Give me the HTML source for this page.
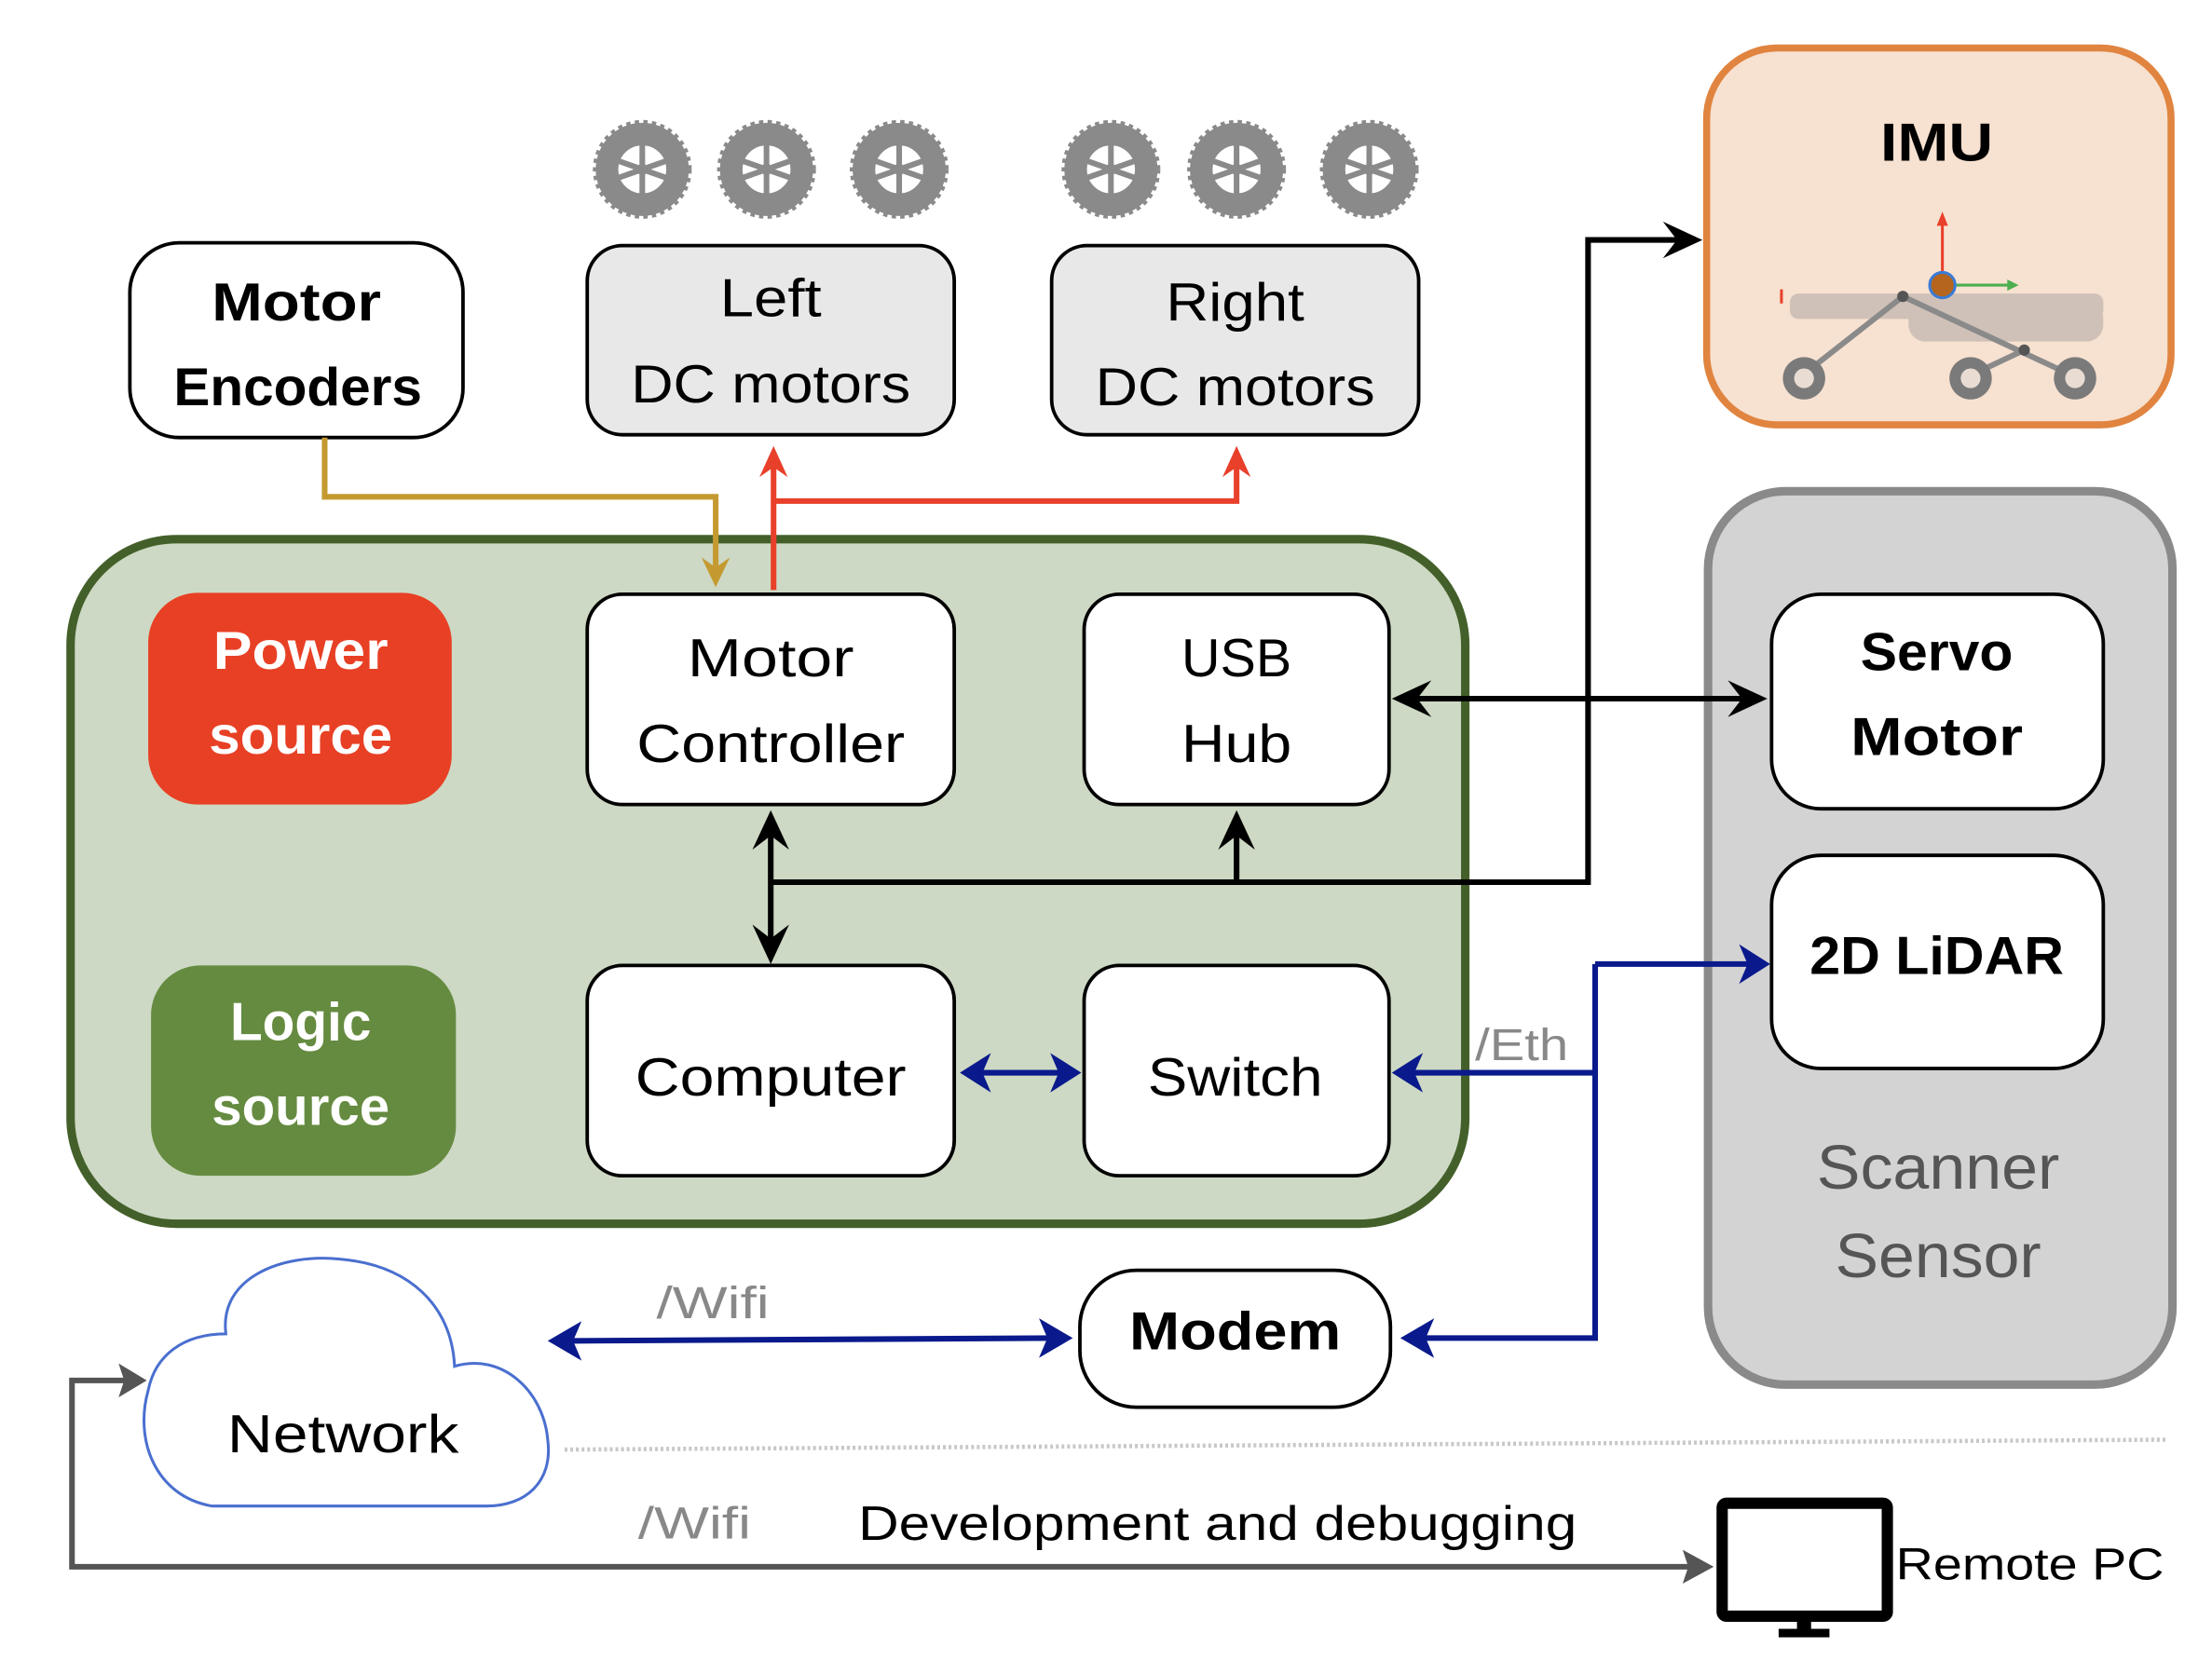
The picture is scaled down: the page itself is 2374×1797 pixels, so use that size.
<!DOCTYPE html>
<html><head><meta charset="utf-8"><style>
html,body{margin:0;padding:0;background:#fff;}
svg{display:block;}
text{font-family:"Liberation Sans",sans-serif;}
</style></head><body>
<svg width="2374" height="1797" viewBox="0 0 1567 1186" preserveAspectRatio="none" xmlns="http://www.w3.org/2000/svg">
<defs>
<g id="wheel">
<circle r="33" fill="#8a8a8a"/>
<circle r="33" fill="none" stroke="#8a8a8a" stroke-width="4" stroke-dasharray="3 3"/>
<circle r="18" fill="#fff"/>
<circle r="18" fill="none" stroke="#8a8a8a" stroke-width="2"/>
<circle r="4" fill="#8a8a8a"/>
<g stroke="#8a8a8a" stroke-width="4"><line x1="0" y1="-18" x2="0" y2="18"/><line x1="-17" y1="-6" x2="17" y2="6"/><line x1="-17" y1="6" x2="17" y2="-6"/></g>
</g>
</defs>

<use href="#wheel" x="455" y="120"/><use href="#wheel" x="543" y="120"/><use href="#wheel" x="637" y="120"/>
<use href="#wheel" x="787" y="120"/><use href="#wheel" x="876" y="120"/><use href="#wheel" x="970" y="120"/>

<rect x="92" y="172" width="236" height="138" rx="35" fill="#fff" stroke="#000" stroke-width="2.5"/>
<text x="210" y="227" font-size="38" font-weight="bold" text-anchor="middle" textLength="120" lengthAdjust="spacingAndGlyphs">Motor</text>
<text x="211" y="287" font-size="38" font-weight="bold" text-anchor="middle" textLength="176" lengthAdjust="spacingAndGlyphs">Encoders</text>

<rect x="416" y="174" width="260" height="134" rx="25" fill="#e8e8e8" stroke="#000" stroke-width="2.5"/>
<text x="546" y="224" font-size="38" text-anchor="middle" textLength="72" lengthAdjust="spacingAndGlyphs">Left</text>
<text x="546" y="285" font-size="38" text-anchor="middle" textLength="198" lengthAdjust="spacingAndGlyphs">DC motors</text>

<rect x="745" y="174" width="260" height="134" rx="25" fill="#e8e8e8" stroke="#000" stroke-width="2.5"/>
<text x="875" y="227" font-size="38" text-anchor="middle" textLength="98" lengthAdjust="spacingAndGlyphs">Right</text>
<text x="875" y="287" font-size="38" text-anchor="middle" textLength="198" lengthAdjust="spacingAndGlyphs">DC motors</text>

<rect x="1209" y="34" width="329" height="267" rx="50" fill="#f7e1d0" stroke="#e08440" stroke-width="5"/>
<text x="1372" y="114" font-size="38" font-weight="bold" text-anchor="middle" textLength="80" lengthAdjust="spacingAndGlyphs">IMU</text>
<rect x="1268" y="208" width="222" height="18" rx="6" fill="#cfc1b8"/>
<rect x="1352" y="214" width="138" height="28" rx="12" fill="#cfc1b8"/>
<line x1="1376" y1="202" x2="1376" y2="158" stroke="#e8402a" stroke-width="2"/>
<polygon points="1372,160 1380,160 1376,150" fill="#e8402a"/>
<line x1="1380" y1="202" x2="1424" y2="202" stroke="#4caf50" stroke-width="2"/>
<polygon points="1422,198 1430,202 1422,206" fill="#4caf50"/>
<line x1="1262" y1="205" x2="1262" y2="215" stroke="#e8402a" stroke-width="2"/>
<g stroke="#8a8a8a" stroke-width="4" fill="none">
<line x1="1348" y1="210" x2="1278" y2="265"/>
<line x1="1348" y1="210" x2="1470" y2="267"/>
<line x1="1434" y1="248" x2="1396" y2="266"/>
</g>
<circle cx="1348" cy="210" r="4" fill="#555"/><circle cx="1434" cy="248" r="4" fill="#555"/>
<circle cx="1376" cy="202" r="9" fill="#b5651d" stroke="#3a7bd5" stroke-width="2"/>
<circle cx="1278" cy="268" r="15" fill="#7a7a7a"/><circle cx="1278" cy="268" r="7" fill="#e8dcd3"/>
<circle cx="1396" cy="268" r="15" fill="#7a7a7a"/><circle cx="1396" cy="268" r="7" fill="#e8dcd3"/>
<circle cx="1470" cy="268" r="15" fill="#7a7a7a"/><circle cx="1470" cy="268" r="7" fill="#e8dcd3"/>

<rect x="1210" y="348" width="329" height="633" rx="55" fill="#d3d3d3" stroke="#8a8a8a" stroke-width="6"/>
<rect x="1255" y="421" width="235" height="152" rx="35" fill="#fff" stroke="#000" stroke-width="2.5"/>
<text x="1372" y="475" font-size="38" font-weight="bold" text-anchor="middle" textLength="108" lengthAdjust="spacingAndGlyphs">Servo</text>
<text x="1372" y="535" font-size="38" font-weight="bold" text-anchor="middle" textLength="122" lengthAdjust="spacingAndGlyphs">Motor</text>
<rect x="1255" y="606" width="235" height="151" rx="35" fill="#fff" stroke="#000" stroke-width="2.5"/>
<text x="1372" y="690" font-size="38" font-weight="bold" text-anchor="middle" textLength="180" lengthAdjust="spacingAndGlyphs">2D LiDAR</text>
<text x="1373" y="842" font-size="44" fill="#555" text-anchor="middle" textLength="172" lengthAdjust="spacingAndGlyphs">Scanner</text>
<text x="1373" y="905" font-size="44" fill="#555" text-anchor="middle" textLength="146" lengthAdjust="spacingAndGlyphs">Sensor</text>

<rect x="50" y="382" width="988" height="485" rx="75" fill="#cdd9c4" stroke="#44602a" stroke-width="6"/>
<rect x="105" y="420" width="215" height="150" rx="35" fill="#e84025"/>
<text x="213" y="474" font-size="38" font-weight="bold" fill="#fff" text-anchor="middle" textLength="124" lengthAdjust="spacingAndGlyphs">Power</text>
<text x="213" y="534" font-size="38" font-weight="bold" fill="#fff" text-anchor="middle" textLength="130" lengthAdjust="spacingAndGlyphs">source</text>
<rect x="107" y="684" width="216" height="149" rx="35" fill="#658b40"/>
<text x="213" y="737" font-size="38" font-weight="bold" fill="#fff" text-anchor="middle" textLength="100" lengthAdjust="spacingAndGlyphs">Logic</text>
<text x="213" y="797" font-size="38" font-weight="bold" fill="#fff" text-anchor="middle" textLength="126" lengthAdjust="spacingAndGlyphs">source</text>

<rect x="416" y="421" width="260" height="149" rx="25" fill="#fff" stroke="#000" stroke-width="2.5"/>
<text x="546" y="479" font-size="38" text-anchor="middle" textLength="118" lengthAdjust="spacingAndGlyphs">Motor</text>
<text x="546" y="540" font-size="38" text-anchor="middle" textLength="190" lengthAdjust="spacingAndGlyphs">Controller</text>
<rect x="768" y="421" width="216" height="149" rx="25" fill="#fff" stroke="#000" stroke-width="2.5"/>
<text x="876" y="479" font-size="38" text-anchor="middle" textLength="78" lengthAdjust="spacingAndGlyphs">USB</text>
<text x="876" y="540" font-size="38" text-anchor="middle" textLength="78" lengthAdjust="spacingAndGlyphs">Hub</text>
<rect x="416" y="684" width="260" height="149" rx="25" fill="#fff" stroke="#000" stroke-width="2.5"/>
<text x="546" y="776" font-size="38" text-anchor="middle" textLength="192" lengthAdjust="spacingAndGlyphs">Computer</text>
<rect x="768" y="684" width="216" height="149" rx="25" fill="#fff" stroke="#000" stroke-width="2.5"/>
<text x="875" y="776" font-size="38" text-anchor="middle" textLength="124" lengthAdjust="spacingAndGlyphs">Switch</text>

<rect x="765" y="900" width="220" height="97" rx="40" fill="#fff" stroke="#000" stroke-width="2.5"/>
<text x="875" y="956" font-size="38" font-weight="bold" text-anchor="middle" textLength="150" lengthAdjust="spacingAndGlyphs">Modem</text>

<path d="M150,1067 C110,1060 95,1020 105,985 C110,960 130,945 160,945 C155,905 200,888 240,892 C290,896 320,925 322,968 C355,958 385,985 388,1020 C392,1050 372,1067 345,1067 Z" fill="#fff" stroke="#4a6fcf" stroke-width="2"/>
<text x="243" y="1029" font-size="38" text-anchor="middle" textLength="164" lengthAdjust="spacingAndGlyphs">Network</text>

<line x1="400" y1="1027" x2="1535" y2="1020" stroke="#c8c8c8" stroke-width="3" stroke-dasharray="2 2"/>

<text x="465" y="934" font-size="32" fill="#888" textLength="80" lengthAdjust="spacingAndGlyphs">/Wifi</text>
<text x="452" y="1090" font-size="32" fill="#888" textLength="80" lengthAdjust="spacingAndGlyphs">/Wifi</text>
<text x="608" y="1091" font-size="34" fill="#000" textLength="509" lengthAdjust="spacingAndGlyphs">Development and debugging</text>
<text x="1045" y="751" font-size="32" fill="#888" textLength="66" lengthAdjust="spacingAndGlyphs">/Eth</text>
<text x="1343" y="1119" font-size="32" fill="#000" textLength="190" lengthAdjust="spacingAndGlyphs">Remote PC</text>

<rect x="1220" y="1065" width="117" height="80" rx="3" fill="#fff" stroke="#000" stroke-width="8"/>
<rect x="1273" y="1145" width="10" height="10" fill="#000"/>
<rect x="1260" y="1154" width="36" height="6" fill="#000"/>

<polyline points="230,310 230,352 507,352 507,405" fill="none" stroke="#c49a30" stroke-width="4"/>
<polygon points="497,395 507,416 517,395 507,402" fill="#c49a30"/>

<polyline points="548,418 548,326" fill="none" stroke="#e8402a" stroke-width="4"/>
<polyline points="548,355 876,355 876,326" fill="none" stroke="#e8402a" stroke-width="4"/>
<polygon points="538,338 548,316 558,338 548,331" fill="#e8402a"/>
<polygon points="866,338 876,316 886,338 876,331" fill="#e8402a"/>

<g stroke="#000" stroke-width="4" fill="none">
<line x1="990" y1="495" x2="1248" y2="495"/>
<polyline points="546,625 1125,625 1125,170 1200,170"/>
<line x1="546" y1="580" x2="546" y2="678"/>
<line x1="876" y1="580" x2="876" y2="625"/>
</g>
<g fill="#000">
<polygon points="986,495 1014,482 1004,495 1014,508"/>
<polygon points="1252,495 1224,482 1234,495 1224,508"/>
<polygon points="1206,170 1178,157 1188,170 1178,183"/>
<polygon points="546,574 533,602 546,592 559,602"/>
<polygon points="546,683 533,655 546,665 559,655"/>
<polygon points="876,574 863,602 876,592 889,602"/>
</g>

<g stroke="#0a1a8c" stroke-width="4" fill="none">
<line x1="690" y1="760" x2="756" y2="760"/>
<polyline points="996,760 1130,760"/>
<polyline points="1130,683 1130,948 1002,948"/>
<line x1="1130" y1="683" x2="1244" y2="683"/>
<line x1="400" y1="950" x2="748" y2="948"/>
</g>
<g fill="#0a1a8c">
<polygon points="680,760 702,746 696,760 702,774"/>
<polygon points="766,760 744,746 750,760 744,774"/>
<polygon points="986,760 1008,746 1002,760 1008,774"/>
<polygon points="1254,683 1232,669 1238,683 1232,697"/>
<polygon points="992,948 1016,934 1010,948 1016,962"/>
<polygon points="388,950 412,936 406,950 412,964"/>
<polygon points="760,948 736,934 742,948 736,962"/>
</g>

<polyline points="96,978 51,978 51,1110 1198,1110" fill="none" stroke="#555" stroke-width="4"/>
<polygon points="104,978 84,966 88,978 84,990" fill="#555"/>
<polygon points="1214,1110 1192,1098 1196,1110 1192,1122" fill="#555"/>
</svg>
</body></html>
